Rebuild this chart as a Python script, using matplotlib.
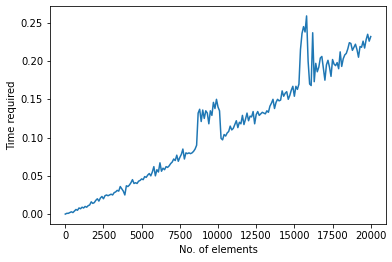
import numpy as np
import matplotlib
matplotlib.use("Agg")
import matplotlib.pyplot as plt

n_elements = list(range(0, 20001, 100))

time_required = [
    # 0 - 900
    0.000, 0.001, 0.001, 0.002, 0.003, 0.002, 0.004, 0.006, 0.005, 0.008,
    # 1000 - 1900
    0.007, 0.009, 0.008, 0.010, 0.009, 0.011, 0.012, 0.016, 0.014, 0.015,
    # 2000 - 2900
    0.018, 0.020, 0.017, 0.021, 0.023, 0.020, 0.024, 0.025, 0.024, 0.025,
    # 3000 - 3900
    0.026, 0.025, 0.028, 0.029, 0.031, 0.030, 0.036, 0.033, 0.030, 0.025,
    # 4000 - 4900
    0.037, 0.036, 0.038, 0.041, 0.045, 0.040, 0.041, 0.040, 0.043, 0.044,
    # 5000 - 5900
    0.046, 0.045, 0.049, 0.048, 0.051, 0.053, 0.050, 0.055, 0.062, 0.050,
    # 6000 - 6900
    0.058, 0.055, 0.067, 0.056, 0.060, 0.058, 0.062, 0.061, 0.063, 0.066,
    # 7000 - 7900
    0.068, 0.072, 0.070, 0.077, 0.069, 0.074, 0.078, 0.085, 0.072, 0.080,
    # 8000 - 8900
    0.079, 0.080, 0.079, 0.080, 0.082, 0.085, 0.090, 0.132, 0.137, 0.121,
    # 9000 - 9900
    0.136, 0.125, 0.135, 0.132, 0.118, 0.135, 0.129, 0.146, 0.138, 0.150,
    # 10000 - 10900
    0.140, 0.135, 0.099, 0.097, 0.104, 0.102, 0.106, 0.108, 0.115, 0.110,
    # 11000 - 11900
    0.112, 0.117, 0.122, 0.113, 0.120, 0.118, 0.129, 0.117, 0.124, 0.132,
    # 12000 - 12900
    0.122, 0.128, 0.127, 0.134, 0.118, 0.130, 0.134, 0.129, 0.131, 0.133,
    # 13000 - 13900
    0.132, 0.131, 0.135, 0.133, 0.141, 0.145, 0.150, 0.138, 0.146, 0.150,
    # 14000 - 14900
    0.148, 0.149, 0.161, 0.154, 0.158, 0.160, 0.150, 0.155, 0.162, 0.167,
    # 15000 - 15900
    0.154, 0.167, 0.163, 0.170, 0.215, 0.236, 0.245, 0.238, 0.259, 0.200,
    # 16000 - 16900
    0.170, 0.168, 0.237, 0.173, 0.197, 0.186, 0.192, 0.204, 0.206, 0.190,
    # 17000 - 17900
    0.175, 0.195, 0.201, 0.192, 0.180, 0.202, 0.196, 0.194, 0.198, 0.190,
    # 18000 - 18900
    0.212, 0.193, 0.203, 0.208, 0.210, 0.216, 0.224, 0.223, 0.214, 0.218,
    # 19000 - 19900
    0.222, 0.215, 0.205, 0.219, 0.218, 0.226, 0.217, 0.228, 0.235, 0.226,
    # 20000
    0.232,
]

fig = plt.figure(figsize=(392 / 72, 262 / 72), dpi=72, facecolor="white")
ax = fig.add_axes([50 / 392, 1 - 224 / 262, 336 / 392, 218 / 262])
ax.plot(n_elements, time_required, color="#1f77b4", linewidth=1.5)
ax.set_xlabel("No. of elements", fontsize=10)
ax.set_ylabel("Time required", fontsize=10)
ax.set_xticks([0, 2500, 5000, 7500, 10000, 12500, 15000, 17500, 20000])
ax.set_yticks([0.00, 0.05, 0.10, 0.15, 0.20, 0.25])
ax.tick_params(labelsize=10)
fig.savefig("out.png", dpi=72, facecolor="white")
